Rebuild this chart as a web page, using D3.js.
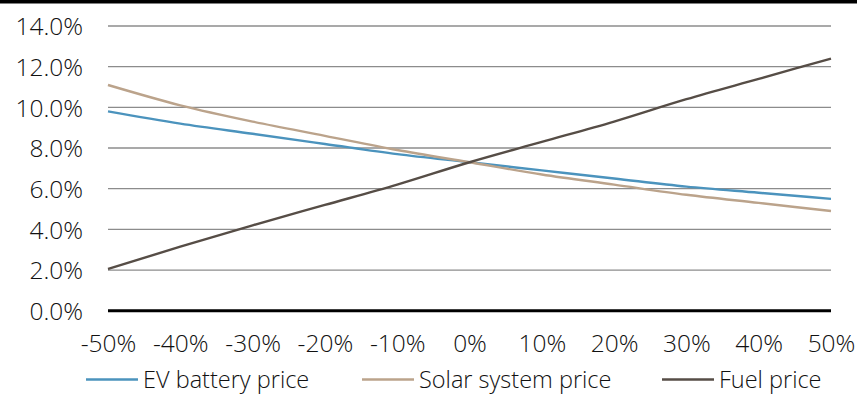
<!DOCTYPE html>
<html>
<head>
<meta charset="utf-8">
<script src="https://cdn.jsdelivr.net/npm/d3@7/dist/d3.min.js"></script>
<style>
  html, body { margin: 0; padding: 0; background: #fff; }
  svg { display: block; }
  svg text { font-family: "Open Sans", "Noto Sans", sans-serif !important; font-weight: 300; }
</style>
</head>
<body>
<div id="chart"></div>
<script>
// Sensitivity of return to input price changes
const categories = ["-50%", "-40%", "-30%", "-20%", "-10%", "0%", "10%", "20%", "30%", "40%", "50%"];
const evBattery  = [9.8, 9.2, 8.7, 8.2, 7.7, 7.3, 6.9, 6.5, 6.1, 5.8, 5.5];
const solarSystem = [11.1, 10.1, 9.3, 8.6, 7.9, 7.3, 6.7, 6.2, 5.7, 5.3, 4.9];
const fuelPrice  = [2.05, 3.15, 4.2, 5.2, 6.2, 7.3, 8.3, 9.3, 10.4, 11.4, 12.4];
const yTicks = [0, 2, 4, 6, 8, 10, 12, 14];
const seriesNames = ["EV battery price", "Solar system price", "Fuel price"];
const seriesColors = ["#4b93bd", "#bba38b", "#564d46"];

const series = [evBattery, solarSystem, fuelPrice].map((values, i) => ({
  name: seriesNames[i], color: seriesColors[i], values
}));

const W = 860, H = 394;
const FS = 24.5;
const LFS = 23.5;
const svg = d3.select("#chart").append("svg").attr("width", W).attr("height", H);

// top rule
svg.append("rect").attr("x", 0).attr("y", 0).attr("width", 857).attr("height", 3.5).attr("fill", "#000");

const x = d3.scalePoint().domain(categories).range([108, 831]);
const y = d3.scaleLinear().domain([0, 14]).range([310.7, 26]);

// gridlines
svg.append("g").selectAll("line").data(yTicks.filter(d => d > 0)).join("line")
  .attr("x1", 108).attr("x2", 831)
  .attr("y1", d => y(d)).attr("y2", d => y(d))
  .attr("stroke", "#8c8c8c").attr("stroke-width", 1.3);

// y axis labels
const yAxis = d3.axisLeft(y).tickValues(yTicks).tickSize(0).tickPadding(0)
  .tickFormat(d => d.toFixed(1) + "%");
const gy = svg.append("g").attr("transform", "translate(83,0)").call(yAxis);
gy.attr("font-family", null);
gy.select(".domain").remove();
gy.selectAll("text").attr("font-size", FS).attr("fill", "#111").attr("dy", "0.36em");

// lines
const line = d3.line().x((d, i) => x(categories[i])).y(d => y(d)).curve(d3.curveMonotoneX);
svg.append("g").selectAll("path").data(series).join("path")
  .attr("d", d => line(d.values))
  .attr("fill", "none")
  .attr("stroke", d => d.color)
  .attr("stroke-width", 2.4);

// x axis
const xAxis = d3.axisBottom(x).tickSize(0).tickPadding(0);
const gx = svg.append("g").attr("transform", `translate(0,${y(0)})`).call(xAxis);
gx.attr("font-family", null);
gx.select(".domain").remove();
gx.selectAll("text").attr("font-size", FS).attr("fill", "#111").attr("y", 32).attr("dy", "0.36em");
svg.append("line").attr("x1", 108).attr("x2", 831).attr("y1", y(0)).attr("y2", y(0))
  .attr("stroke", "#000").attr("stroke-width", 3);

// legend
const legendX = [86, 362, 662];
const lg = svg.append("g").selectAll("g").data(series).join("g")
  .attr("transform", (d, i) => `translate(${legendX[i]},379.5)`);
lg.append("line").attr("x1", 0).attr("x2", 52).attr("y1", 0).attr("y2", 0)
  .attr("stroke", d => d.color).attr("stroke-width", 2.4);
lg.append("text").attr("x", 57).attr("dy", "0.34em").attr("font-size", LFS).attr("fill", "#111")
  .text(d => d.name);
</script>
</body>
</html>
